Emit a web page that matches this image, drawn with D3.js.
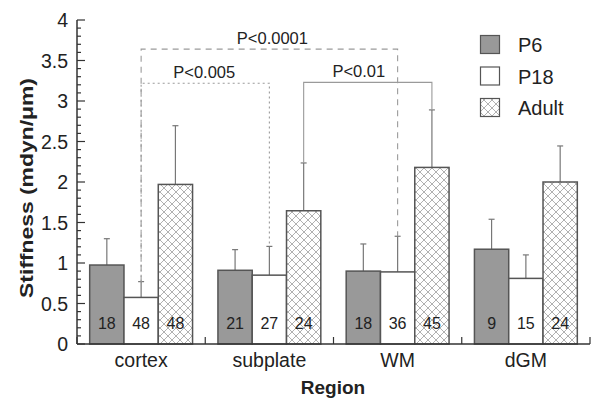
<!DOCTYPE html>
<html><head><meta charset="utf-8">
<script src="https://cdn.jsdelivr.net/npm/d3@7"></script>
<style>body{margin:0;background:#fff;} svg{display:block;font-family:Arial,"Liberation Sans",sans-serif;}</style>
</head><body>
<svg id="c" width="600" height="406"></svg>
<script>
const regions = ["cortex","subplate","WM","dGM"];
const groups = ["P6","P18","Adult"];
const meanP6 = [0.975, 0.91, 0.90, 1.17];
const meanP18 = [0.575, 0.85, 0.89, 0.81];
const meanAdult = [1.97, 1.645, 2.18, 2.00];
const errP6 = [1.30, 1.165, 1.235, 1.54];
const errP18 = [0.77, 1.205, 1.33, 1.10];
const errAdult = [2.695, 2.235, 2.89, 2.445];
const nP6 = [18, 21, 18, 9];
const nP18 = [48, 27, 36, 15];
const nAdult = [48, 24, 45, 24];
const yTicks = [0,0.5,1,1.5,2,2.5,3,3.5,4];
const yTickLabels = ["0","0.5","1","1.5","2","2.5","3","3.5","4"];
// significance brackets: [region index a, group a, region index b, group b]
const sigA = [[0,"P18",2,"P18"],[0,"P18",1,"P18"],[1,"Adult",2,"Adult"]];
const sigLevel = [3.64, 3.22, 3.23];
const sigLabel = ["P<0.0001","P<0.005","P<0.01"];
const sigDash = ["6,5","2,3",null];

const svg = d3.select("#c");
const defs = svg.append("defs");
const pat = defs.append("pattern").attr("id","hatch").attr("patternUnits","userSpaceOnUse")
  .attr("width",8).attr("height",8);
pat.append("rect").attr("width",8).attr("height",8).attr("fill","#fff");
pat.append("path").attr("d","M0,0L8,8M8,0L0,8").attr("stroke","#a8a8a8").attr("stroke-width",0.9);

const x0 = d3.scaleBand().domain(regions).range([77,590]).paddingInner(0).paddingOuter(0);
const x1 = d3.scaleBand().domain(groups).range([0,x0.bandwidth()]).paddingOuter(0.37).paddingInner(0);
const y = d3.scaleLinear().domain([0,4]).range([344,20]);

const series = {P6:{m:meanP6,e:errP6,n:nP6,fill:"#999"},P18:{m:meanP18,e:errP18,n:nP18,fill:"#fff"},Adult:{m:meanAdult,e:errAdult,n:nAdult,fill:"url(#hatch)"}};
const lineCol = "#9a9a9a";
const labelDx = [3, -1, -9];
const cx = (r,g)=>x0(regions[r])+x1(g)+x1.bandwidth()/2;

// error bars
groups.forEach(g=>{
  const s=series[g];
  regions.forEach((r,i)=>{
    const xc=cx(i,g);
    svg.append("line").attr("x1",xc).attr("x2",xc).attr("y1",y(s.m[i])).attr("y2",y(s.e[i])).attr("stroke","#777").attr("stroke-width",1.2);
    svg.append("line").attr("x1",xc-3).attr("x2",xc+3).attr("y1",y(s.e[i])).attr("y2",y(s.e[i])).attr("stroke","#777").attr("stroke-width",1.2);
  });
});

// significance brackets
sigA.forEach((s,k)=>{
  const xa=cx(s[0],s[1]), xb=cx(s[2],s[3]);
  const ya=y(series[s[1]].e[s[0]]), yb=y(series[s[3]].e[s[2]]), yl=y(sigLevel[k]);
  svg.append("path").attr("d",`M${xa},${ya}V${yl}H${xb}V${yb}`).attr("fill","none")
    .attr("stroke",lineCol).attr("stroke-width",1.1).attr("stroke-dasharray",sigDash[k]);
  svg.append("text").attr("x",(xa+xb)/2+labelDx[k]).attr("y",yl-5).attr("text-anchor","middle")
    .attr("font-size",16.5).attr("fill","#222").text(sigLabel[k]);
});

// bars
groups.forEach(g=>{
  const s=series[g];
  svg.append("g").selectAll("rect").data(regions).join("rect")
    .attr("x",r=>x0(r)+x1(g)).attr("width",x1.bandwidth())
    .attr("y",(r,i)=>y(s.m[i])).attr("height",(r,i)=>y(0)-y(s.m[i]))
    .attr("fill",s.fill).attr("stroke","#555").attr("stroke-width",1.5);
  svg.append("g").selectAll("text").data(regions).join("text")
    .attr("x",(r,i)=>cx(i,g)).attr("y",329).attr("text-anchor","middle")
    .attr("font-size",16).attr("fill","#222").text((r,i)=>s.n[i]);
});

// y axis
const yg = svg.append("g").attr("transform","translate(77,0)");
yg.append("line").attr("x1",0).attr("x2",0).attr("y1",y(0)).attr("y2",y(4)).attr("stroke","#333").attr("stroke-width",1.5);
yg.selectAll(".mn").data(d3.range(0,41)).join("line")
  .attr("x1",0).attr("x2",d=>d%5===0?8:4).attr("y1",d=>y(d/10)).attr("y2",d=>y(d/10))
  .attr("stroke","#333").attr("stroke-width",1.2);
yg.selectAll(".lb").data(yTicks).join("text")
  .attr("x",-9).attr("y",d=>y(d)).attr("dy","0.36em").attr("text-anchor","end")
  .attr("font-size",19.5).attr("fill","#222").text((d,i)=>yTickLabels[i]);

// x axis
const xg = svg.append("g");
xg.append("line").attr("x1",77).attr("x2",590).attr("y1",y(0)).attr("y2",y(0)).attr("stroke","#333").attr("stroke-width",1.5);
const bounds = regions.map(r=>x0(r)).concat([590]);
xg.selectAll(".tk").data(bounds).join("line").attr("x1",d=>d).attr("x2",d=>d)
  .attr("y1",y(0)).attr("y2",y(0)-7).attr("stroke","#333").attr("stroke-width",1.2);
xg.selectAll(".cl").data(regions).join("text")
  .attr("x",r=>x0(r)+x0.bandwidth()/2).attr("y",367).attr("text-anchor","middle")
  .attr("font-size",19.5).attr("fill","#222").text(r=>r);

svg.append("text").attr("x",333).attr("y",394).attr("text-anchor","middle")
  .attr("font-size",19).attr("font-weight","bold").attr("fill","#222").text("Region");
svg.append("text").attr("transform","translate(33,188) rotate(-90)").attr("text-anchor","middle")
  .attr("font-size",19).attr("font-weight","bold").attr("fill","#222")
  .attr("textLength",220).attr("lengthAdjust","spacingAndGlyphs").text("Stiffness (mdyn/μm)");

// legend
const lg = svg.append("g");
groups.forEach((g,i)=>{
  lg.append("rect").attr("x",480.5).attr("y",35.5+i*31.5).attr("width",19).attr("height",18)
    .attr("fill",series[g].fill).attr("stroke","#555").attr("stroke-width",1.2);
  lg.append("text").attr("x",518).attr("y",52+i*31.5).attr("font-size",20).attr("fill","#222").text(g);
});
</script>
</body></html>
